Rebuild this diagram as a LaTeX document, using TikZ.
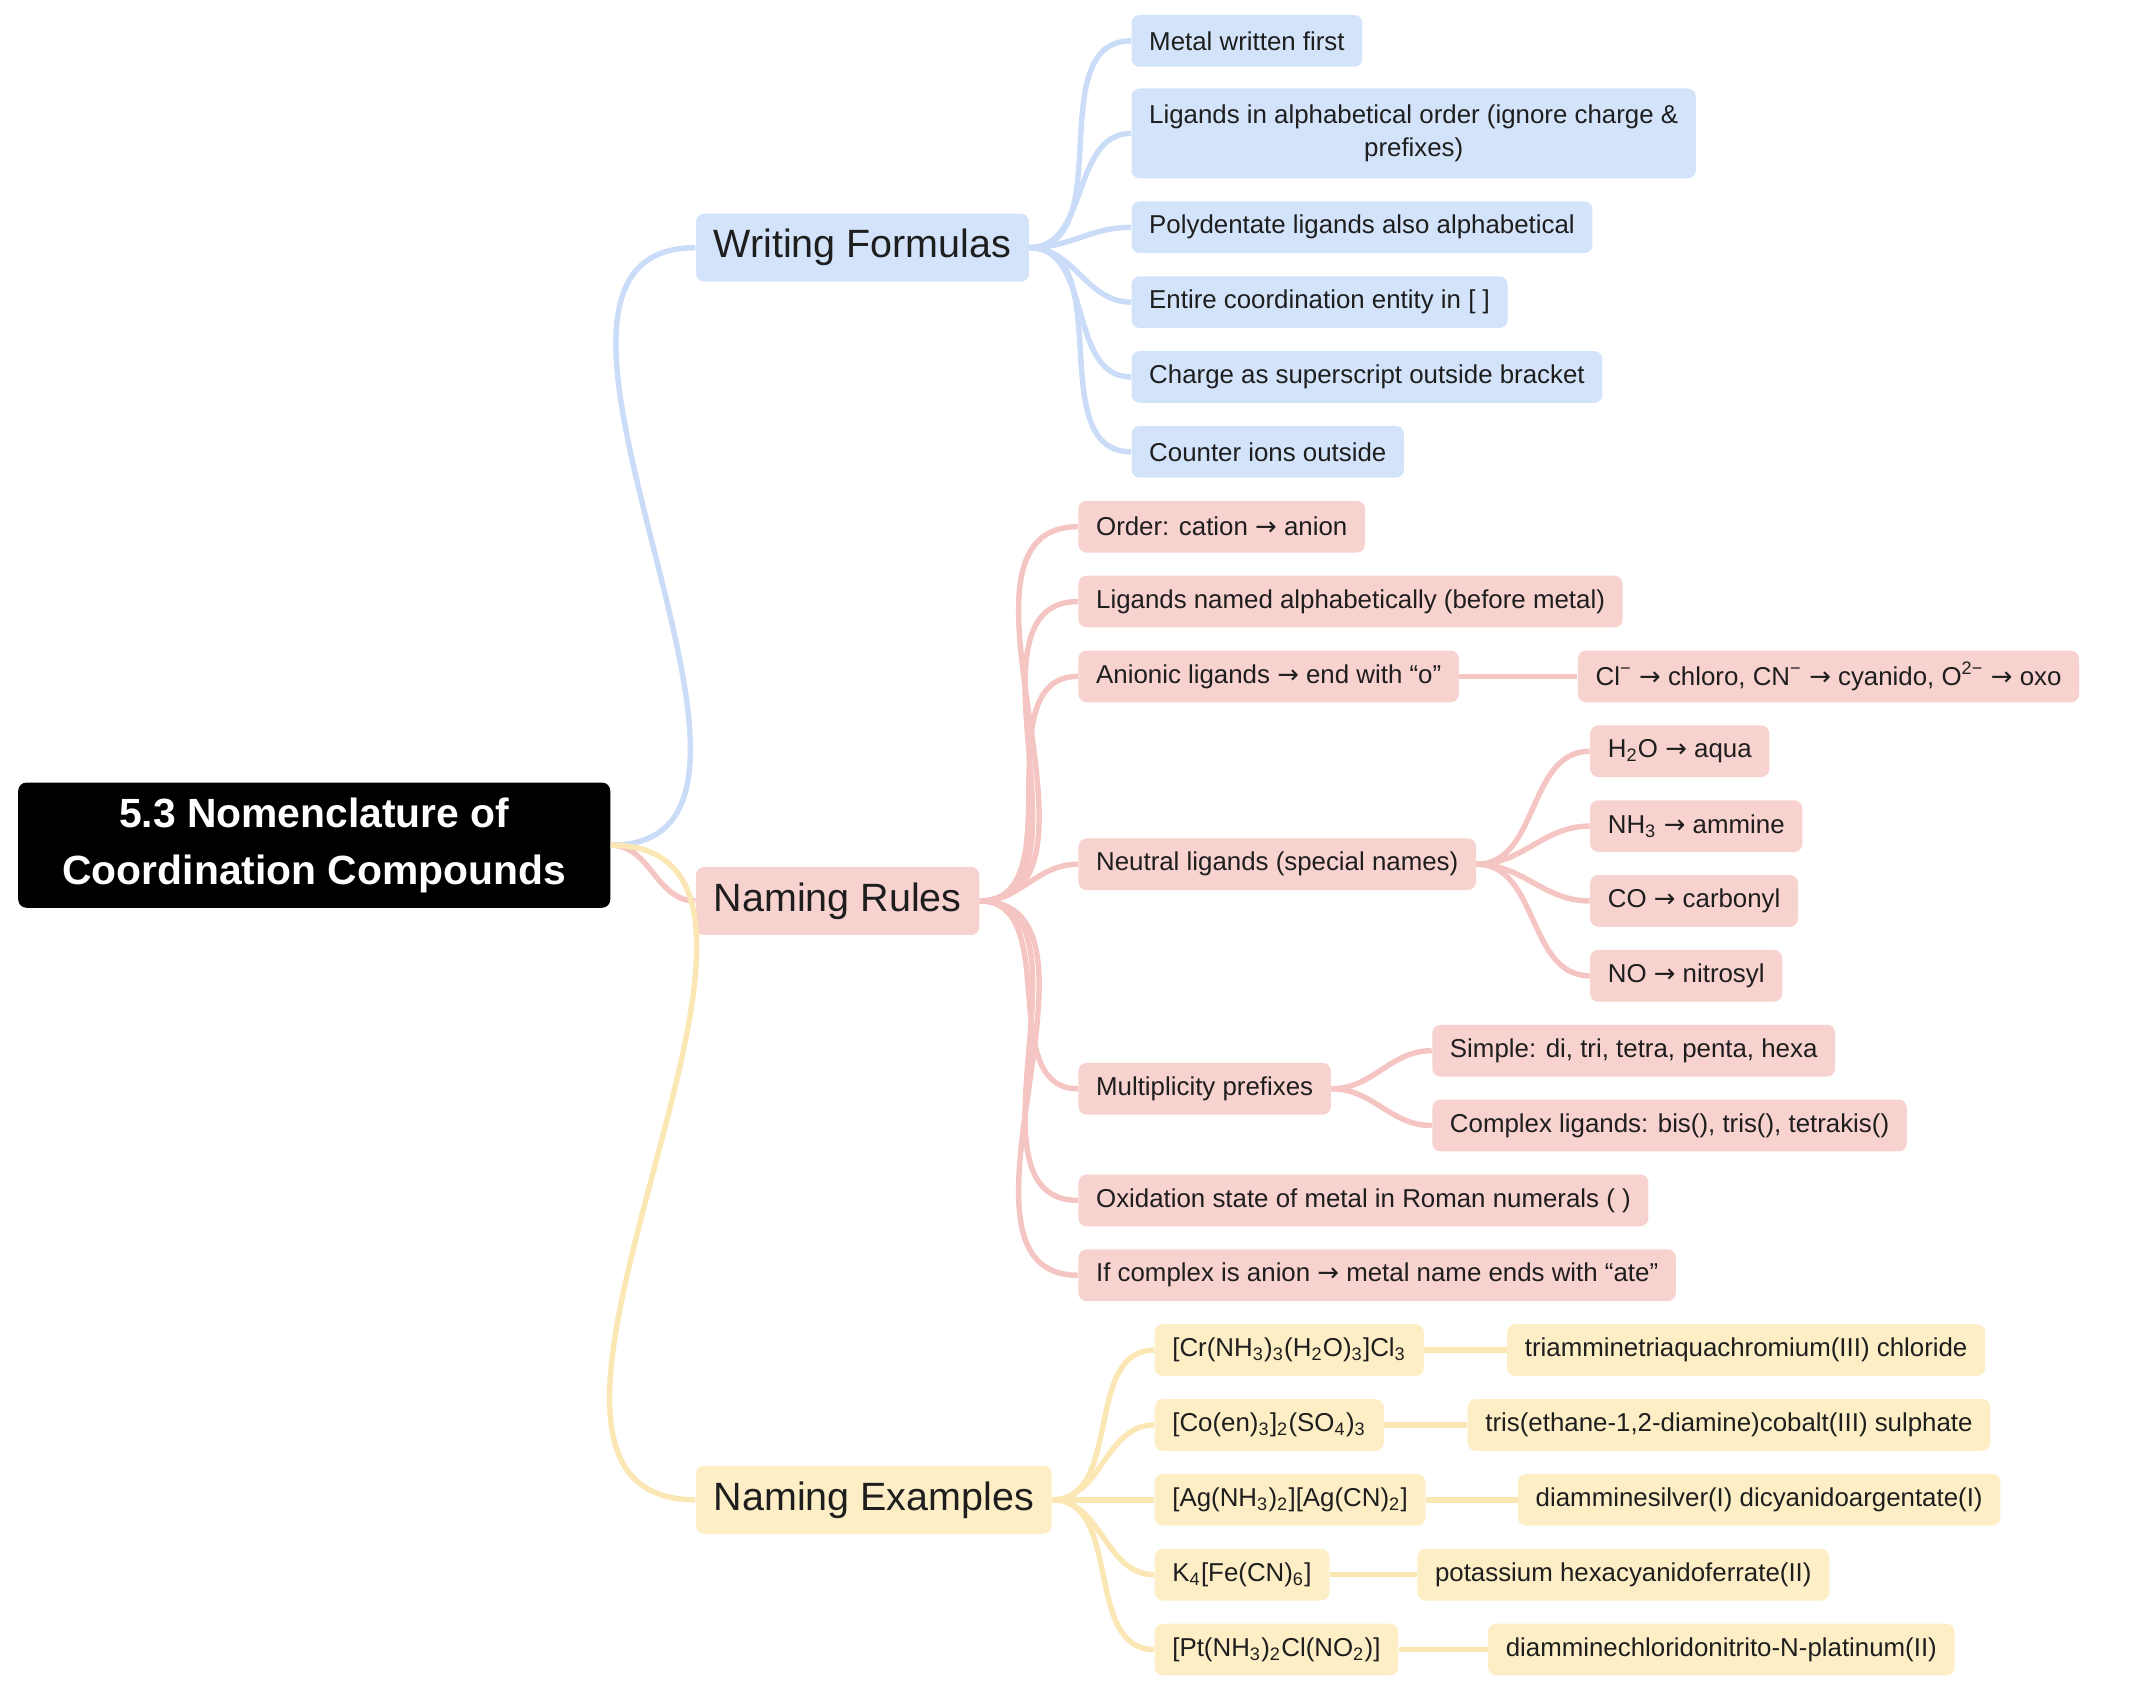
\documentclass[tikz,border=0pt]{standalone}
\usepackage{fontspec}
\setmainfont{Liberation Sans}
\newfontfamily\djv{DejaVu Sans}
\newcommand{\ar}{{\djv →}}
\newcommand{\sub}[1]{\textsubscript{#1}}
\newcommand{\sups}[1]{\textsuperscript{#1}}
\definecolor{bfill}{HTML}{D3E3FA}
\definecolor{bline}{HTML}{CADCF7}
\definecolor{rfill}{HTML}{F7D2CF}
\definecolor{rline}{HTML}{F4C5C2}
\definecolor{yfill}{HTML}{FDEEC6}
\definecolor{yline}{HTML}{FBE7B4}
\definecolor{ink}{HTML}{1E1E1E}

\begin{document}
\begin{tikzpicture}[
        x=0.5pt,y=-0.5pt,
        box/.style={rounded corners=3pt,anchor=west,inner xsep=6.5pt,
          minimum height=19pt,font=\fontsize{9.5}{12}\selectfont,text=ink},
        topic/.style={box,minimum height=25pt,font=\fontsize{14.5}{17}\selectfont},
        wf/.style={box,fill=bfill}, nr/.style={box,fill=rfill}, ne/.style={box,fill=yfill},
        every edge/.append style={line width=2pt,out=0,in=180}]
      \useasboundingbox (0,0) rectangle (1568,1242);
      \node[fill=black,text=white,rounded corners=3pt,align=center,anchor=west,
        minimum width=217.5pt,minimum height=46pt,
        font=\bfseries\fontsize{15}{21}\selectfont] (root) at (13,621)
        {5.3 Nomenclature of\\Coordination Compounds};
      % categories
      \node[topic,fill=bfill] (write) at (511,182) {Writing Formulas};
      \node[topic,fill=rfill] (rules) at (511,662) {Naming Rules};
      \node[topic,fill=yfill] (examples) at (511,1102) {Naming Examples};
      \path (root.east) edge[bline] (write.west)
            (root.east) edge[rline] (rules.west)
            (root.east) edge[yline] (examples.west);
      % writing formulas
      \node[wf] (w1) at (831,30) {Metal written first};
      \node[wf,align=center,minimum height=33pt] (w2) at (831,98) {Ligands in alphabetical order (ignore charge \&\\prefixes)};
      \node[wf] (w3) at (831,167) {Polydentate ligands also alphabetical};
      \node[wf] (w4) at (831,222) {Entire coordination entity in [ ]};
      \node[wf] (w5) at (831,277) {Charge as superscript outside bracket};
      \node[wf] (w6) at (831,332) {Counter ions outside};
      \foreach \n in {w1,w2,w3,w4,w5,w6}
        \path (write.east) edge[bline] (\n.west);
      % naming rules
      \node[nr] (r1) at (792,387) {Order: cation \ar{} anion};
      \node[nr] (r2) at (792,442) {Ligands named alphabetically (before metal)};
      \node[nr] (r3) at (792,497) {Anionic ligands \ar{} end with “o”};
      \node[nr] (r4) at (792,635) {Neutral ligands (special names)};
      \node[nr] (r5) at (792,800) {Multiplicity prefixes};
      \node[nr] (r6) at (792,882) {Oxidation state of metal in Roman numerals ( )};
      \node[nr] (r7) at (792,937) {If complex is anion \ar{} metal name ends with “ate”};
      \foreach \n in {r1,r2,r3,r4,r5,r6,r7}
        \path (rules.east) edge[rline] (\n.west);
      \node[nr] (r3a) at (1159,497) {Cl\sups{−} \ar{} chloro, CN\sups{−} \ar{} cyanido, O\sups{2−} \ar{} oxo};
      \path (r3.east) edge[rline] (r3a.west);
      \node[nr] (r4a) at (1168,552) {H\sub{2}O \ar{} aqua};
      \node[nr] (r4b) at (1168,607) {NH\sub{3} \ar{} ammine};
      \node[nr] (r4c) at (1168,662) {CO \ar{} carbonyl};
      \node[nr] (r4d) at (1168,717) {NO \ar{} nitrosyl};
      \foreach \n in {r4a,r4b,r4c,r4d}
        \path (r4.east) edge[rline] (\n.west);
      \node[nr] (r5a) at (1052,772) {Simple: di, tri, tetra, penta, hexa};
      \node[nr] (r5b) at (1052,827) {Complex ligands: bis(), tris(), tetrakis()};
      \foreach \n in {r5a,r5b}
        \path (r5.east) edge[rline] (\n.west);
      % naming examples
      \node[ne] (e1) at (848,992) {[Cr(NH\sub{3})\sub{3}(H\sub{2}O)\sub{3}]Cl\sub{3}};
      \node[ne] (e2) at (848,1047) {[Co(en)\sub{3}]\sub{2}(SO\sub{4})\sub{3}};
      \node[ne] (e3) at (848,1102) {[Ag(NH\sub{3})\sub{2}][Ag(CN)\sub{2}]};
      \node[ne] (e4) at (848,1157) {K\sub{4}[Fe(CN)\sub{6}]};
      \node[ne] (e5) at (848,1212) {[Pt(NH\sub{3})\sub{2}Cl(NO\sub{2})]};
      \node[ne] (n1) at (1107,992) {triamminetriaquachromium(III) chloride};
      \node[ne] (n2) at (1078,1047) {tris(ethane-1,2-diamine)cobalt(III) sulphate};
      \node[ne] (n3) at (1115,1102) {diamminesilver(I) dicyanidoargentate(I)};
      \node[ne] (n4) at (1041,1157) {potassium hexacyanidoferrate(II)};
      \node[ne] (n5) at (1093,1212) {diamminechloridonitrito-N-platinum(II)};
      \foreach \i in {1,...,5} {
        \path (examples.east) edge[yline] (e\i.west);
        \path (e\i.east) edge[yline] (n\i.west);
      }
    \end{tikzpicture}
\end{document}
